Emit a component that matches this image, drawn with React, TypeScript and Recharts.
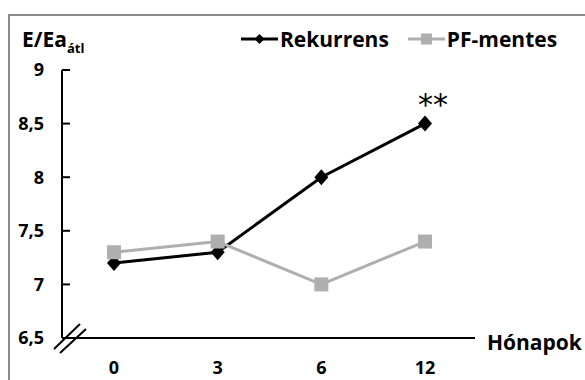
import React from "react";
import {
  Label,
  LabelList,
  Line,
  LineChart,
  XAxis,
  YAxis,
  usePlotArea,
} from "recharts";

const months = ["0", "3", "6", "12"];
const rekurrens = [7.2, 7.3, 8.0, 8.5];
const pfMentes = [7.3, 7.4, 7.0, 7.4];
const significance = ["", "", "", "**"];
const yTicks = [6.5, 7, 7.5, 8, 8.5, 9];

const FONT = "'Open Sans', sans-serif";
const BLACK = "#000000";
const GREY = "#afafaf";
const Y_TICK_GAP = 18;

const series = [
  { key: "rekurrens", name: "Rekurrens", color: BLACK, marker: "diamond" },
  { key: "pf", name: "PF-mentes", color: GREY, marker: "square" },
];

const data = months.map((m, i) => ({
  month: m,
  rekurrens: rekurrens[i],
  pf: pfMentes[i],
  sig: significance[i],
}));

const fmt = (v: number) => String(v).replace(".", ",");

const Diamond = (props: any) => {
  const { cx, cy, index } = props;
  if (cx == null || cy == null) return <g key={index} />;
  return (
    <polygon
      key={index}
      points={`${cx},${cy - 8} ${cx + 7},${cy} ${cx},${cy + 8} ${cx - 7},${cy}`}
      fill={BLACK}
    />
  );
};

const Square = (props: any) => {
  const { cx, cy, index } = props;
  if (cx == null || cy == null) return <g key={index} />;
  return <rect key={index} x={cx - 7} y={cy - 7} width={14} height={14} fill={GREY} />;
};

// y ticks point inward, labels sit left of the axis
const YTick = (props: any) => {
  const { x, y, payload } = props;
  const axisX = x + Y_TICK_GAP;
  return (
    <g>
      {payload.value !== yTicks[0] && (
        <line x1={axisX} x2={axisX + 8} y1={y} y2={y} stroke={BLACK} strokeWidth={2} />
      )}
      <text
        x={x}
        y={y}
        dy="0.36em"
        textAnchor="end"
        fontFamily={FONT}
        fontWeight={700}
        fontSize={18}
        fill={BLACK}
      >
        {fmt(payload.value)}
      </text>
    </g>
  );
};

const XTick = (props: any) => {
  const { x, y, payload } = props;
  return (
    <text
      x={x}
      y={y}
      dy="0.71em"
      textAnchor="middle"
      fontFamily={FONT}
      fontWeight={700}
      fontSize={18}
      fill={BLACK}
    >
      {payload.value}
    </text>
  );
};

const SigLabel = (props: any) => {
  const { x, y, value } = props;
  if (!value) return null;
  return (
    <text
      x={x + 8}
      y={y - 9}
      textAnchor="middle"
      fontFamily="'DejaVu Sans', sans-serif"
      fontSize={30}
      fill={BLACK}
    >
      {value}
    </text>
  );
};

function ChartLegend() {
  return (
    <div
      style={{
        position: "absolute",
        left: 241,
        top: 25,
        display: "flex",
        alignItems: "center",
        whiteSpace: "nowrap",
        fontFamily: FONT,
        fontWeight: 700,
        fontSize: 21,
        lineHeight: "28px",
        color: BLACK,
      }}
    >
      {series.map((s) => (
        <div key={s.key} style={{ display: "flex", alignItems: "center", marginRight: 19 }}>
          <svg width={37} height={16}>
            <line x1={0} x2={37} y1={8} y2={8} stroke={s.color} strokeWidth={3} />
            {s.marker === "diamond" ? (
              <polygon points="18.5,3 23.5,8 18.5,13 13.5,8" fill={s.color} />
            ) : (
              <rect x={13} y={2.5} width={11} height={11} fill={s.color} />
            )}
          </svg>
          <span style={{ marginLeft: 2 }}>{s.name}</span>
        </div>
      ))}
    </div>
  );
}

// double slash marking the broken y axis near the origin
function AxisBreak() {
  const area = usePlotArea ? usePlotArea() : null;
  if (!area) return null;
  const ox = area.x;
  const oy = area.y + area.height;
  return (
    <g>
      <rect x={ox + 1} y={oy - 3} width={20} height={6} fill="#fff" />
      <line x1={ox - 8} y1={oy + 11} x2={ox + 18} y2={oy - 14} stroke={BLACK} strokeWidth={2} />
      <line x1={ox - 2} y1={oy + 15} x2={ox + 24} y2={oy - 9} stroke={BLACK} strokeWidth={2} />
    </g>
  );
}

export default function App() {
  return (
    <div
      style={{
        position: "absolute",
        left: 0,
        top: 0,
        width: 585,
        height: 380,
        background: "#fff",
        overflow: "hidden",
      }}
    >
      <div
        style={{
          position: "absolute",
          left: 8,
          top: 14,
          right: -4,
          bottom: -4,
          borderTop: "2px solid #8c8c8c",
          borderLeft: "2px solid #8c8c8c",
        }}
      />
      <div style={{ position: "absolute", left: 0, top: 0 }}>
        <LineChart
          width={585}
          height={380}
          data={data}
          margin={{ top: 70, right: 110, bottom: 0, left: 8 }}
        >
          <XAxis
            dataKey="month"
            padding={{ left: 52, right: 50 }}
            height={42}
            tickLine={false}
            tickSize={0}
            tickMargin={23}
            axisLine={{ stroke: BLACK, strokeWidth: 2 }}
            tick={<XTick />}
            interval={0}
          >
            <Label
              content={(p: any) => (
                <text
                  x={p.viewBox.x + p.viewBox.width + 12}
                  y={p.viewBox.y + 12}
                  fontFamily={FONT}
                  fontWeight={700}
                  fontSize={21}
                  fill={BLACK}
                >
                  Hónapok
                </text>
              )}
            />
          </XAxis>
          <YAxis
            type="number"
            domain={[6.5, 9]}
            ticks={yTicks}
            interval={0}
            width={54}
            tickLine={false}
            tickSize={0}
            tickMargin={Y_TICK_GAP}
            axisLine={{ stroke: BLACK, strokeWidth: 2 }}
            tick={<YTick />}
          >
            <Label
              content={(p: any) => (
                <text
                  x={p.viewBox.x + 14}
                  y={p.viewBox.y - 23}
                  fontFamily={FONT}
                  fontWeight={700}
                  fontSize={21}
                  fill={BLACK}
                >
                  E/Ea
                  <tspan dy={6} fontSize={13}>
                    átl
                  </tspan>
                </text>
              )}
            />
          </YAxis>
          {series.map((s) => (
            <Line
              key={s.key}
              name={s.name}
              dataKey={s.key}
              type="linear"
              stroke={s.color}
              strokeWidth={3}
              dot={s.marker === "diamond" ? Diamond : Square}
              activeDot={false}
              isAnimationActive={false}
            >
              {s.key === "rekurrens" && <LabelList dataKey="sig" content={<SigLabel />} />}
            </Line>
          ))}
          <AxisBreak />
        </LineChart>
      </div>
      <ChartLegend />
    </div>
  );
}
